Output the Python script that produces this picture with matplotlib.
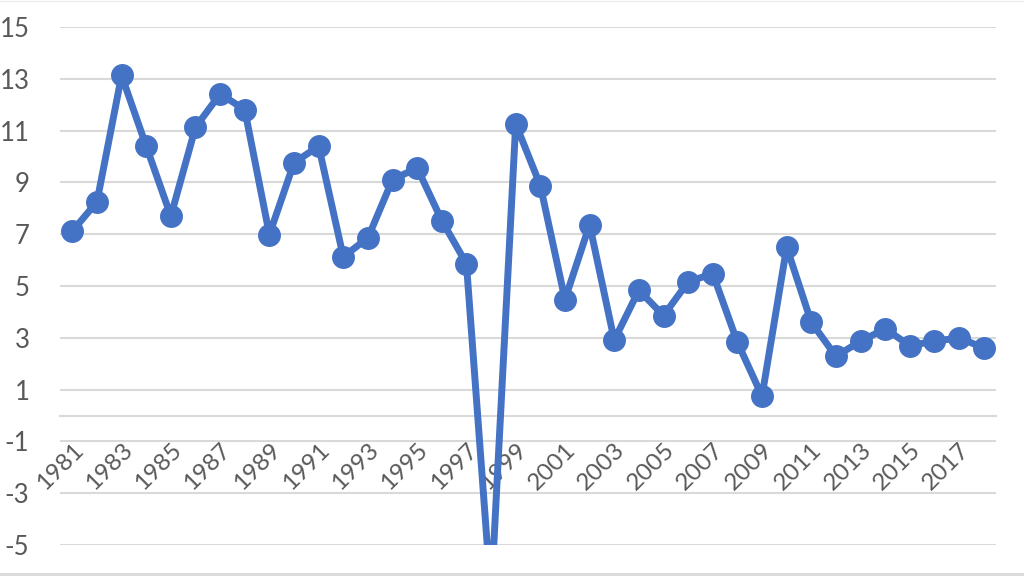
import numpy as np
import matplotlib
matplotlib.use('Agg')
import matplotlib.pyplot as plt

years = list(range(1981, 2019))
values = [7.12, 8.25, 13.13, 10.4, 7.7, 11.13, 12.42, 11.81, 6.99, 9.76,
          10.4, 6.13, 6.86, 9.11, 9.56, 7.53, 5.86, -7.0, 11.26, 8.88,
          4.48, 7.37, 2.91, 4.84, 3.86, 5.16, 5.48, 2.83, 0.75, 6.5,
          3.6, 2.29, 2.87, 3.35, 2.7, 2.87, 3.0, 2.61]
y_ticks = list(range(-5, 16, 2))
label_years = [y for y in years if y % 2 == 1]

blue = '#4472C4'
grid = '#D9D9D9'
text_col = '#595959'

plt.rcParams['font.family'] = ['Lato', 'DejaVu Sans']

fig = plt.figure(figsize=(10.24, 5.76), dpi=100)
ax = fig.add_axes([0.0586, 0.0538, 0.9141, 0.8992])

x = np.arange(len(years))
ax.plot(x, values, color=blue, linewidth=5, marker='o', markersize=15.5,
        solid_joinstyle='round', zorder=3)

ax.set_xlim(-0.5, len(years) - 0.5)
ax.set_ylim(-5, 15)
ax.set_yticks(y_ticks)
ax.set_yticklabels([str(v) for v in y_ticks])
ax.grid(axis='y', color=grid, linewidth=1.5)
ax.set_axisbelow(True)

for side in ['top', 'right', 'left']:
    ax.spines[side].set_visible(False)
ax.spines['bottom'].set_position(('data', 0))
ax.spines['bottom'].set_color(grid)
ax.spines['bottom'].set_linewidth(1.5)

ax.set_xticks([years.index(y) for y in label_years])
ax.set_xticklabels([str(y) for y in label_years])
ax.tick_params(axis='x', length=0, pad=17, labelsize=17.5, labelcolor=text_col)
ax.tick_params(axis='y', length=0, pad=22, labelsize=18.5, labelcolor=text_col)
plt.setp(ax.get_xticklabels(), rotation=45, ha='right', va='top',
         rotation_mode='anchor')

# thin frame lines at top and bottom of the picture
fig.add_artist(plt.Line2D([0, 1], [0.003, 0.003], color=grid, linewidth=2,
                          transform=fig.transFigure))
fig.add_artist(plt.Line2D([0, 1], [0.999, 0.999], color='#EEEEEE', linewidth=1,
                          transform=fig.transFigure))

fig.savefig('out.png', dpi=100)
